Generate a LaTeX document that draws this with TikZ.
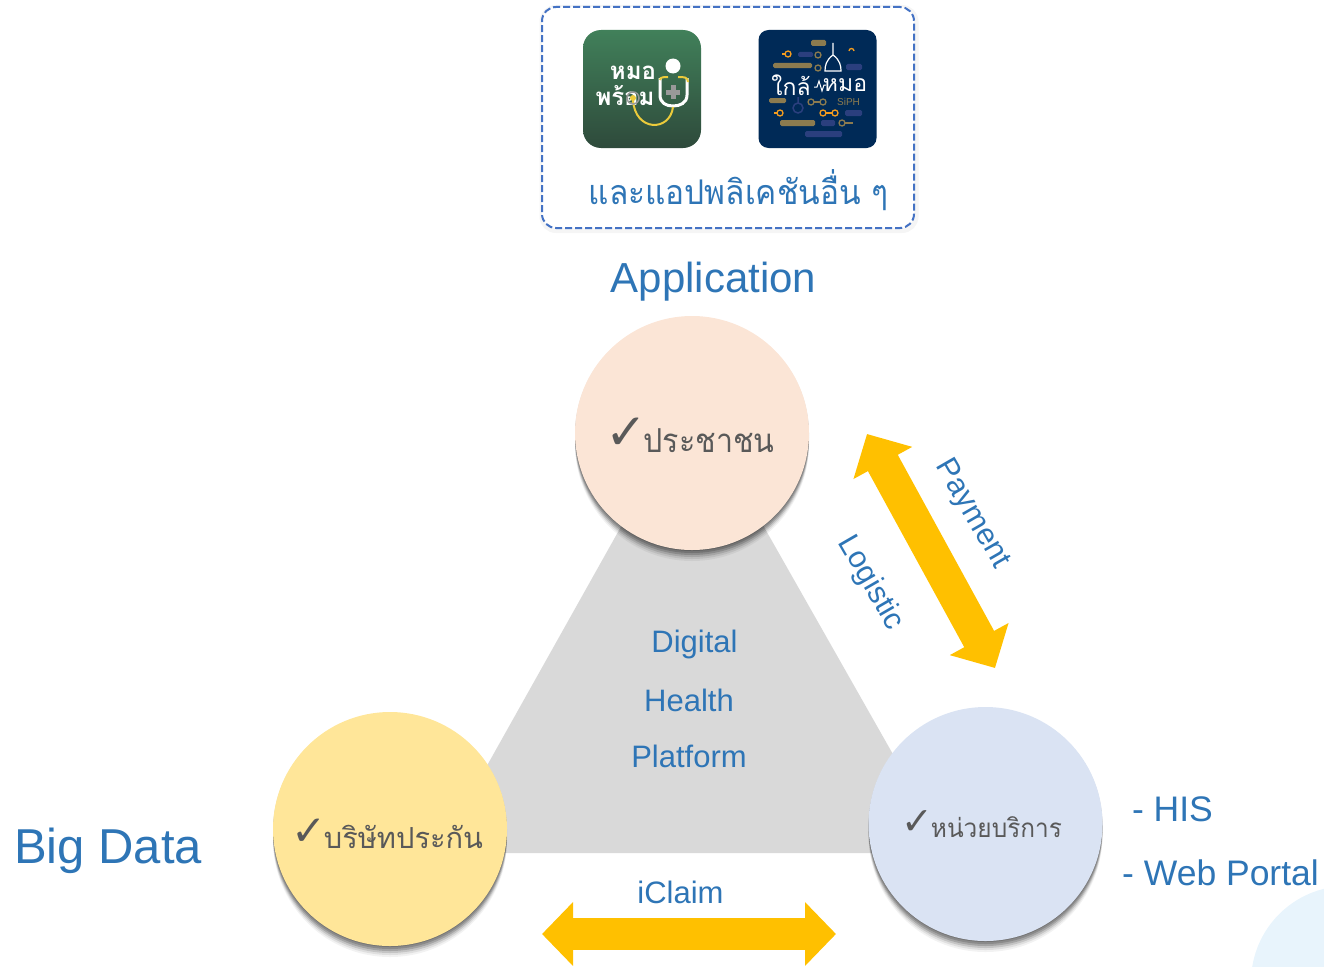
\documentclass[tikz,border=0pt]{standalone}
\usepackage{fontspec}
\setmainfont{Liberation Sans}
\newfontfamily\thaifont[Script=Thai]{Loma}
\newfontfamily\symfont{DejaVu Sans}
\usetikzlibrary{arrows.meta, positioning, shadows}

\definecolor{txtblue}{HTML}{2E75B6}
\definecolor{thaigrey}{HTML}{595959}
\definecolor{gold}{HTML}{FFC000}
\definecolor{tan}{HTML}{8C7B4F}
\definecolor{navypill}{HTML}{2B3F7E}
\definecolor{iconnavy}{HTML}{002A57}
\definecolor{icongreenA}{HTML}{41805A}
\definecolor{icongreenB}{HTML}{2E4A3B}
\definecolor{iconorange}{HTML}{F39C1F}
\definecolor{iconyellow}{HTML}{EBCB3B}
\definecolor{boxblue}{HTML}{4472C4}
\definecolor{cornerblue}{HTML}{E8F4FC}
\definecolor{peoplefill}{HTML}{FBE5D6}
\definecolor{insurerfill}{HTML}{FFE699}
\definecolor{providerfill}{HTML}{DAE3F3}

\tikzset{
    softshadow/.style={
        general shadow={shadow xshift=0pt, shadow yshift=-11pt, opacity=.05, fill=black},
        general shadow={shadow xshift=0pt, shadow yshift=-9pt, opacity=.08, fill=black},
        general shadow={shadow xshift=0pt, shadow yshift=-7pt, opacity=.12, fill=black},
        general shadow={shadow xshift=0pt, shadow yshift=-5pt, opacity=.16, fill=black},
        general shadow={shadow xshift=0pt, shadow yshift=-3pt, opacity=.16, fill=black},
        general shadow={shadow xshift=0pt, shadow yshift=-1pt, opacity=.16, fill=black}},
    party/.style={circle, minimum size=234pt, inner sep=0pt, softshadow},
    bluetext/.style={text=txtblue, font=\fontsize{#1}{#1}\selectfont},
    thaitext/.style={text=thaigrey, font=\thaifont\fontsize{#1}{#1}\selectfont},
    checkmark/.style={text=thaigrey, inner sep=0pt, font=\symfont\fontsize{#1}{#1}\selectfont},
    goldarrow/.style={draw=gold, line width=#1},
    pill/.style={rounded corners=1.5pt},
}

\begin{document}
\begin{tikzpicture}[x=1pt, y=-1pt]
    \useasboundingbox (0,0) rectangle (1324,966);

    % Corner of the background
    \begin{scope}
        \clip (0,0) rectangle (1324,966);
        \fill[cornerblue] (1347,982) circle (96);
    \end{scope}

    % Application box
    \node (apphalo) [draw=black!4, line width=5pt, rounded corners=14pt,
        minimum width=374pt, minimum height=223pt] at (729,119) {};
    \node (appbox) [draw=boxblue, line width=2pt, dash pattern=on 7pt off 3pt, rounded corners=14pt, fill=white,
        minimum width=372pt, minimum height=221pt] at (728,117.5) {};
    \node (moph) [rounded corners=18pt, minimum size=118pt, inner sep=0pt,
        top color=icongreenA, bottom color=icongreenB] at (642,89) {};
    \node (siph) [fill=iconnavy, rounded corners=10pt, minimum size=118pt, inner sep=0pt] at (817.5,89) {};

    % Icon one
    \node (mophA) [text=white, font=\thaifont\bfseries\fontsize{24}{24}\selectfont] at (633,73) {หมอ};
    \node (mophB) [text=white, font=\thaifont\bfseries\fontsize{24}{24}\selectfont] at (625,96) {พร้อม};
    \fill[white] (673,66) circle (7.5);
    \draw[white, line width=3pt] (660,78) -- (660,95) .. controls (660,103) and (666,106) .. (673,106) .. controls (680,106) and (687,103) .. (687,95) -- (687,78);
    \draw[iconyellow, line width=2pt] (660,80) .. controls (660,77) and (664,77) .. (668,77) (678,77) .. controls (684,77) and (688,77) .. (688,82);
    \draw[black!40, line width=5pt] (673,85) -- (673,99) (666,92) -- (680,92);
    \draw[iconyellow, line width=2pt] (633,100) .. controls (635,132) and (670,132) .. (673,107);
    \draw[black!40, line width=1.5pt] (633,98) circle (6);
    \fill[iconyellow] (633,98) circle (3);

    % Icon two
    \foreach \xa/\ya/\xb/\yb/\col in {811/40/826/46/tan, 798/52/813/57/navypill, 773/63/812/68/tan, 846/64/862/70/navypill,
        769/98/786/103/tan, 845/110/862/116/navypill, 780/120/815/126/tan, 821/120/835/126/navypill, 805/131/842/137/navypill}
        \fill[\col, pill] (\xa,\ya) rectangle (\xb,\yb);
    \foreach \xa/\ya/\col in {788/54/iconorange, 780/113/iconorange, 823/113/iconorange, 835/113/iconorange,
        818/55/tan, 818/68/tan, 811/102/tan, 823/102/tan, 842/123/tan}
        \draw[\col, line width=1.3pt] (\xa,\ya) circle (3);
    \draw[iconorange, line width=1.3pt] (785,54) -- (782,54) (777,113) -- (774,113) (826,113) -- (832,113);
    \draw[tan, line width=1.3pt] (814,102) -- (820,102) (845,123) -- (853,123);
    \draw[iconorange, line width=1.3pt] (849,51) arc (180:360:2.5);
    \draw[navypill, line width=1.5pt] (798,108) circle (5) (798,103) -- (798,97);
    \draw[white, line width=1.2pt] (833,43) -- (833,55) .. controls (826,60) and (825,66) .. (825,71) -- (841,71) .. controls (841,66) and (840,60) .. (833,55);
    \node (siphA) [text=white, font=\thaifont\fontsize{23}{23}\selectfont] at (791,85) {ใกล้};
    \node (siphB) [text=white, font=\thaifont\fontsize{23}{23}\selectfont] at (845,85) {หมอ};
    \draw[white, line width=1pt] (814,87) -- ++(3,0) -- ++(2,-6) -- ++(3,10) -- ++(2,-6) -- ++(2,0);
    \node (siphC) [text=tan, font=\fontsize{10}{10}\selectfont] at (848.5,102) {SiPH};

    \node (apptext) [text=txtblue, xscale=.93, font=\thaifont\fontsize{34}{34}\selectfont] at (738.5,190) {และแอปพลิเคชันอื่น ๆ};
    \node (application) [bluetext=42] at (713.5,282) {Application};

    % Platform triangle
    \coordinate (apex) at (692,400);
    \coordinate (baseL) at (438,853);
    \coordinate (baseR) at (949,853);
    \fill[black!15] (apex) -- (baseL) -- (baseR) -- cycle;
    \node (digital) [bluetext=31] at (694.5,644) {Digital};
    \node (health) [bluetext=31] at (689,700) {Health};
    \node (platform) [bluetext=31] at (689,756) {Platform};

    % Three parties
    \node (people) [party, fill=peoplefill] at (692,433) {};
    \node (insurer) [party, fill=insurerfill] at (390,829) {};
    \node (provider) [party, fill=providerfill] at (985.5,824) {};
    \node (peopletext) [thaitext=33, xscale=.92] at (709,441) {ประชาชน};
    \node (insurertext) [thaitext=29] at (403.5,837) {บริษัทประกัน};
    \node (providertext) [thaitext=26, xscale=.94] at (996.5,827) {หน่วยบริการ};
    \node (peoplecheck) [checkmark=50] at (626,434) {✓};
    \node (insurercheck) [checkmark=42] at (309.5,832) {✓};
    \node (providercheck) [checkmark=38] at (917.5,823) {✓};

    % Exchange arrows
    \coordinate (payA) at (867,434);
    \coordinate (payB) at (995,668);
    \coordinate (claimA) at (542,934);
    \coordinate (claimB) at (836,934);
    \draw[goldarrow=34pt, {Triangle[length=33pt, width=65pt]}-{Triangle[length=33pt, width=65pt]}] (payA) -- (payB);
    \draw[goldarrow=32pt, {Triangle[length=31pt, width=62pt]}-{Triangle[length=31pt, width=62pt]}] (claimA) -- (claimB);

    \node (payment) [bluetext=30.5, rotate=-60] at (972,514) {Payment};
    \node (logistic) [bluetext=30.5, rotate=-60] at (870.5,583) {Logistic};
    \node (iclaim) [bluetext=31] at (680.5,892) {iClaim};
    \node (bigdata) [bluetext=49] at (108,851) {Big Data};
    \node (his) [bluetext=35.5] at (1172.5,809) {- HIS};
    \node (portal) [bluetext=35.5] at (1220.5,873) {- Web Portal};
\end{tikzpicture}
\end{document}
